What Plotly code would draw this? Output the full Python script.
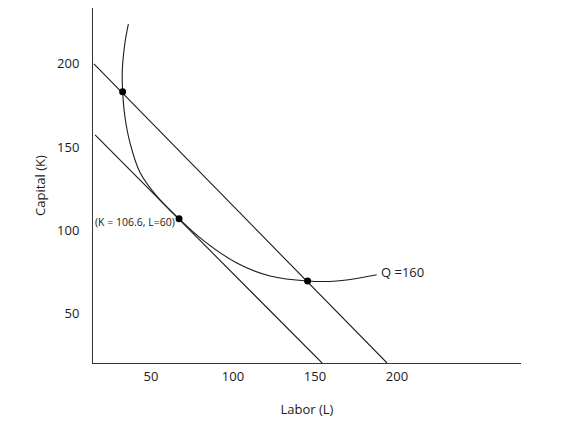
import plotly.graph_objects as go

# Values (Labor L on x, Capital K on y)
budget_high_L = [15.2, 193.9]
budget_high_K = [199.9, 20.4]
budget_low_L = [15.9, 154.3]
budget_low_K = [157.3, 20.4]

iso_L = [36.2, 34.1, 32.5, 32.7, 34.1, 37.2, 43.3, 53.5, 67.1, 81.7, 102.3, 122.6, 145.5, 163.2, 183.5, 187.6]
iso_K = [223.9, 212.5, 196.3, 183.3, 168.2, 152.5, 134.8, 120.6, 107.0, 94.2, 80.4, 72.6, 69.6, 69.6, 72.6, 73.4]

dot_L = [32.7, 67.1, 145.5]
dot_K = [183.3, 107.0, 69.6]

tick_vals = [50, 100, 150, 200]
tick_text = ["50", "100", "150", "200"]

tangent_label = "(K = 106.6, L=60)"
iso_label = "Q =160"

FONT = "Open Sans"
INK = "#1a1a1a"

fig = go.Figure()
fig.add_trace(go.Scatter(x=budget_high_L, y=budget_high_K, mode="lines",
                         line=dict(color=INK, width=1.1), hoverinfo="skip"))
fig.add_trace(go.Scatter(x=budget_low_L, y=budget_low_K, mode="lines",
                         line=dict(color=INK, width=1.1), hoverinfo="skip"))
fig.add_trace(go.Scatter(x=iso_L, y=iso_K, mode="lines",
                         line=dict(color=INK, width=1.1, shape="spline", smoothing=1.0),
                         hoverinfo="skip"))
fig.add_trace(go.Scatter(x=dot_L, y=dot_K, mode="markers",
                         marker=dict(color="black", size=7), hoverinfo="skip"))

fig.add_annotation(x=dot_L[1], y=dot_K[1], text=tangent_label, showarrow=False,
                   xanchor="right", yanchor="middle", xshift=-2, yshift=-3,
                   font=dict(family=FONT, size=10.5, color=INK))
fig.add_annotation(x=iso_L[-1], y=iso_K[-1], text=iso_label, showarrow=False,
                   xanchor="left", yanchor="middle", xshift=2, yshift=3,
                   font=dict(family=FONT, size=13, color=INK))

fig.update_layout(
    width=588, height=440,
    margin=dict(l=85, r=75, t=0, b=85, autoexpand=False),
    paper_bgcolor="white", plot_bgcolor="white",
    showlegend=False,
    font=dict(family=FONT, size=13, color=INK),
    xaxis=dict(range=[14.63, 275.6], tickvals=tick_vals, ticktext=tick_text,
               showgrid=False, zeroline=False, showline=True, linecolor="#333",
               linewidth=1, ticks="", ticklabelstandoff=1, automargin=False,
               title=dict(text="Labor (L)", standoff=21, font=dict(size=13))),
    yaxis=dict(range=[20.4, 233.5], tickvals=tick_vals, ticktext=tick_text,
               showgrid=False, zeroline=False, showline=True, linecolor="#333",
               linewidth=1, ticks="", ticklabelstandoff=10, automargin=False,
               title=dict(text="Capital (K)", standoff=8, font=dict(size=13))),
)

fig.write_html("out.html")
